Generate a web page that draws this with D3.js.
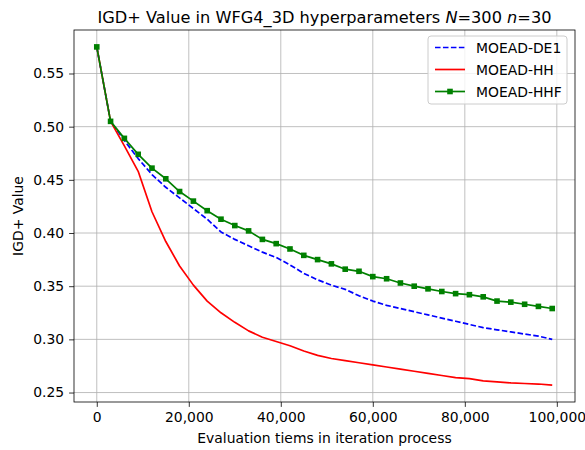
<!DOCTYPE html>
<html><head><meta charset="utf-8">
<script src="https://cdn.jsdelivr.net/npm/d3@7"></script>
<style>
body{margin:0;background:#fff;}
svg{display:block;font-family:"DejaVu Sans",sans-serif;}
</style></head>
<body><svg id="c" width="585" height="450"></svg>
<script>
const xStep = 3000;
const evaluations = d3.range(34).map(i => i * xStep);
const seriesNames = ["MOEAD-DE1", "MOEAD-HH", "MOEAD-HHF"];
const de1 = [0.575,0.505,0.487,0.470,0.455,0.443,0.433,0.423,0.413,0.401,0.394,0.388,0.382,0.377,0.370,0.362,0.356,0.351,0.347,0.341,0.336,0.332,0.329,0.326,0.323,0.320,0.317,0.314,0.311,0.309,0.307,0.305,0.303,0.300];
const hh = [0.575,0.505,0.482,0.458,0.420,0.392,0.369,0.351,0.336,0.325,0.316,0.308,0.302,0.298,0.294,0.289,0.285,0.282,0.280,0.278,0.276,0.274,0.272,0.270,0.268,0.266,0.264,0.263,0.261,0.260,0.259,0.2585,0.258,0.257];
const hhf = [0.575,0.505,0.489,0.474,0.461,0.451,0.439,0.430,0.421,0.413,0.407,0.402,0.394,0.390,0.385,0.379,0.375,0.371,0.366,0.364,0.359,0.357,0.353,0.350,0.3475,0.345,0.343,0.342,0.340,0.336,0.335,0.333,0.331,0.329];
const xTicks = [0,20000,40000,60000,80000,100000];
const yTicks = [0.25,0.30,0.35,0.40,0.45,0.50,0.55];

const svg = d3.select("#c");
const L = 74, R = 575, T = 30, B = 402;
const all = de1.concat(hh, hhf);
const ymin = d3.min(all), ymax = d3.max(all), yr = ymax - ymin;
const xmax = d3.max(evaluations);
const x = d3.scaleLinear().domain([-0.05*xmax, 1.05*xmax]).range([L, R]);
const y = d3.scaleLinear().domain([ymin - 0.05*yr, ymax + 0.05*yr]).range([B, T]);

// grid
const g = svg.append("g");
g.selectAll(".gx").data(xTicks).enter().append("line")
  .attr("x1", d=>x(d)).attr("x2", d=>x(d)).attr("y1", T).attr("y2", B)
  .attr("stroke", "#b0b0b0").attr("stroke-width", 0.8);
g.selectAll(".gy").data(yTicks).enter().append("line")
  .attr("y1", d=>y(d)).attr("y2", d=>y(d)).attr("x1", L).attr("x2", R)
  .attr("stroke", "#b0b0b0").attr("stroke-width", 0.8);

// axes
const fmt = d3.format(",");
const xAxis = d3.axisBottom(x).tickValues(xTicks).tickFormat(fmt).tickSizeOuter(0).tickSize(4.9).tickPadding(4.9);
const yAxis = d3.axisLeft(y).tickValues(yTicks).tickFormat(d3.format(".2f")).tickSizeOuter(0).tickSize(4.9).tickPadding(4.9);
const gx = svg.append("g").attr("transform", `translate(0,${B})`).call(xAxis);
const gy = svg.append("g").attr("transform", `translate(${L},0)`).call(yAxis);
[gx, gy].forEach(a => {
  a.select(".domain").remove();
  a.selectAll("text").attr("font-size", 13.9).attr("fill", "#000").attr("font-family", "DejaVu Sans");
  a.selectAll("line").attr("stroke", "#000").attr("stroke-width", 0.8);
});

// lines
const data = [
  {name: seriesNames[0], vals: de1, color: "#0000ff", dash: "5.55,2.4", marker: false},
  {name: seriesNames[1], vals: hh, color: "#ff0000", dash: null, marker: false},
  {name: seriesNames[2], vals: hhf, color: "#008000", dash: null, marker: true}
];
const line = d3.line().x((d,i)=>x(evaluations[i])).y(d=>y(d));
const clip = svg.append("clipPath").attr("id","clip").append("rect").attr("x",L).attr("y",T).attr("width",R-L).attr("height",B-T);
const plot = svg.append("g").attr("clip-path","url(#clip)");
data.forEach(s => {
  plot.append("path").datum(s.vals).attr("d", line).attr("fill","none")
    .attr("stroke", s.color).attr("stroke-width", 1.7)
    .attr("stroke-dasharray", s.dash).attr("stroke-linejoin","round");
  if (s.marker) {
    plot.selectAll(null).data(s.vals).enter().append("rect")
      .attr("x", (d,i)=>x(evaluations[i])-2.8).attr("y", d=>y(d)-2.8)
      .attr("width", 5.6).attr("height", 5.6).attr("fill", s.color);
  }
});

// frame
svg.append("rect").attr("x",L).attr("y",T).attr("width",R-L).attr("height",B-T)
  .attr("fill","none").attr("stroke","#000").attr("stroke-width",0.8);

// title
const title = svg.append("text").attr("x", (L+R)/2).attr("y", 23).attr("text-anchor","middle")
  .attr("font-size", 16.2).attr("fill","#000");
title.append("tspan").text("IGD+ Value in WFG4_3D hyperparameters ");
title.append("tspan").attr("font-style","italic").text("N");
title.append("tspan").text("=300 ");
title.append("tspan").attr("font-style","italic").text("n");
title.append("tspan").text("=30");

// axis labels
svg.append("text").attr("x",(L+R)/2).attr("y",443).attr("text-anchor","middle")
  .attr("font-size",13.9).text("Evaluation tiems in iteration process");
svg.append("text").attr("transform",`translate(23,${(T+B)/2}) rotate(-90)`).attr("text-anchor","middle")
  .attr("font-size",13.9).text("IGD+ Value");

// legend
const lg = svg.append("g");
lg.append("rect").attr("x",428).attr("y",36).attr("width",139).attr("height",68).attr("rx",3)
  .attr("fill","#fff").attr("fill-opacity",0.8).attr("stroke","#cccccc").attr("stroke-width",1);
data.forEach((s,i) => {
  const yy = 47.5 + i*22;
  lg.append("line").attr("x1",435).attr("x2",465).attr("y1",yy).attr("y2",yy)
    .attr("stroke",s.color).attr("stroke-width",1.7).attr("stroke-dasharray",s.dash);
  if (s.marker) lg.append("rect").attr("x",450-2.8).attr("y",yy-2.8).attr("width",5.6).attr("height",5.6).attr("fill",s.color);
  lg.append("text").attr("x",476).attr("y",yy+5).attr("font-size",13.9).text(s.name);
});
</script></body></html>
